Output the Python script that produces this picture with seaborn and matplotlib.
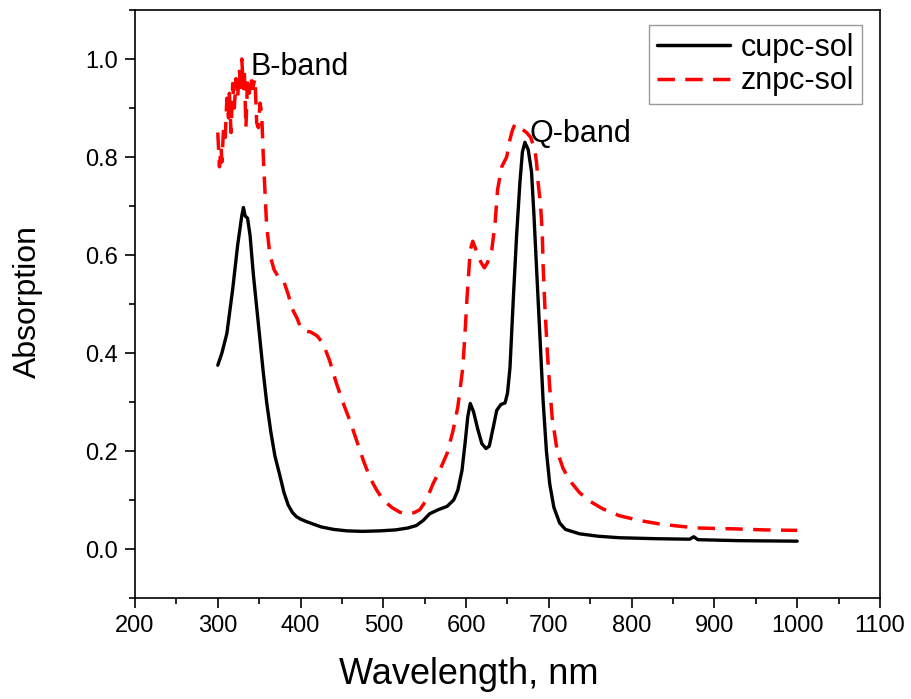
import numpy as np
import pandas as pd
import seaborn as sns
import matplotlib
matplotlib.use("Agg")
import matplotlib.pyplot as plt
from matplotlib.ticker import MultipleLocator

# ---- data ----
cupc_wl = [300, 305, 311, 318, 324, 329, 331, 333, 336, 339, 343, 349, 355, 359, 364, 369, 375,
           380, 385, 390, 395, 400, 407, 415, 425, 440, 456, 475, 496, 515, 530, 540, 548, 556,
           566, 577, 585, 590, 595, 599, 602, 605, 609, 614, 619, 624, 628, 633, 637, 642, 647,
           650, 653, 657, 661, 665, 668, 671, 675, 679, 682, 685, 689, 693, 697, 701, 706, 713,
           720, 737, 760, 785, 830, 870, 875, 880, 930, 1000]
cupc_abs = [0.375, 0.40, 0.44, 0.53, 0.62, 0.68, 0.697, 0.68, 0.675, 0.64, 0.56, 0.46, 0.36, 0.30,
            0.24, 0.19, 0.15, 0.115, 0.09, 0.075, 0.066, 0.061, 0.056, 0.051, 0.045, 0.040, 0.037,
            0.036, 0.037, 0.039, 0.043, 0.048, 0.058, 0.072, 0.080, 0.087, 0.10, 0.12, 0.16,
            0.22, 0.27, 0.297, 0.28, 0.245, 0.215, 0.205, 0.21, 0.25, 0.283, 0.295, 0.298, 0.318,
            0.37, 0.51, 0.64, 0.748, 0.81, 0.83, 0.815, 0.77, 0.68, 0.576, 0.44, 0.303, 0.20,
            0.133, 0.085, 0.053, 0.040, 0.031, 0.026, 0.023, 0.021, 0.020, 0.025, 0.019, 0.017,
            0.016]

znpc_wl = [300, 302, 304, 305, 307, 309, 311, 313, 314, 316, 318, 320, 322, 324, 326, 328, 329,
           331, 332, 334, 336, 338, 340, 342, 345, 347, 349, 351, 353, 355, 357, 359, 363, 368,
           375, 380, 385, 390, 396, 400, 405, 412, 420, 427, 435, 443, 451, 460, 468, 476, 484,
           492, 500, 510, 520, 530, 537, 544, 552, 560, 568, 577, 584, 590, 596, 599, 601, 603,
           605, 608, 611, 614, 618, 622, 626, 631, 635, 638, 643, 649, 653, 656, 659, 662, 665,
           669, 673, 678, 683, 685, 687, 690, 692, 693, 695, 698, 701, 704, 710, 717, 725, 737,
           749, 765, 785, 810, 834, 855, 878, 900, 926, 960, 1000]
znpc_abs = [0.85, 0.78, 0.82, 0.79, 0.86, 0.84, 0.92, 0.88, 0.93, 0.85, 0.95, 0.90, 0.96, 0.92,
            0.98, 0.93, 1.00, 0.94, 0.98, 0.86, 0.96, 0.93, 0.965, 0.94, 0.96, 0.87, 0.86, 0.91,
            0.89, 0.80, 0.73, 0.66, 0.60, 0.57, 0.55, 0.545, 0.52, 0.49, 0.47, 0.452, 0.445,
            0.443, 0.435, 0.42, 0.385, 0.34, 0.30, 0.26, 0.22, 0.18, 0.145, 0.12, 0.10, 0.085,
            0.075, 0.072, 0.074, 0.08, 0.10, 0.133, 0.16, 0.195, 0.24, 0.29, 0.37, 0.45, 0.51,
            0.56, 0.61, 0.628, 0.615, 0.60, 0.585, 0.574, 0.585, 0.61, 0.665, 0.733, 0.78, 0.80,
            0.836, 0.855, 0.867, 0.865, 0.86, 0.855, 0.85, 0.84, 0.815, 0.79, 0.748, 0.70, 0.645,
            0.58, 0.50, 0.405, 0.33, 0.268, 0.20, 0.165, 0.14, 0.115, 0.098, 0.082, 0.068, 0.058,
            0.051, 0.047, 0.043, 0.042, 0.041, 0.039, 0.038]

series_names = ["cupc-sol", "znpc-sol"]
x_ticks = [200, 300, 400, 500, 600, 700, 800, 900, 1000, 1100]
y_ticks = [0.0, 0.2, 0.4, 0.6, 0.8, 1.0]
annotations = [("B-band", 339, 0.984), ("Q-band", 677, 0.846)]

df = pd.concat([
    pd.DataFrame({"wl": cupc_wl, "abs": cupc_abs, "series": series_names[0]}),
    pd.DataFrame({"wl": znpc_wl, "abs": znpc_abs, "series": series_names[1]}),
], ignore_index=True)

sns.set_style("ticks")
plt.rcParams["font.family"] = ["Liberation Sans", "DejaVu Sans"]
plt.rcParams["axes.linewidth"] = 1.2
plt.rcParams["text.color"] = "black"
plt.rcParams["axes.labelcolor"] = "black"
plt.rcParams["xtick.color"] = "black"
plt.rcParams["ytick.color"] = "black"
plt.rcParams["xtick.labelcolor"] = "black"
plt.rcParams["ytick.labelcolor"] = "black"

fig = plt.figure(figsize=(9.12, 6.99), dpi=100)
ax = fig.add_axes([135 / 912, 1 - 598 / 699, 745 / 912, 588 / 699])

sns.lineplot(data=df, x="wl", y="abs", hue="series", style="series",
             palette={"cupc-sol": "black", "znpc-sol": "#ff0000"},
             dashes={"cupc-sol": "", "znpc-sol": (5, 3)},
             sort=False, estimator=None, ax=ax, legend=True)
ax.lines[0].set_linewidth(2.4)
ax.lines[0].set_solid_joinstyle("round")
ax.lines[1].set_linewidth(2.5)
ax.lines[1].set_dashes((5, 3))

ax.set_xlim(200, 1100)
ax.set_ylim(-0.1, 1.1)
ax.set_xticks(x_ticks)
ax.set_xticklabels([str(v) for v in x_ticks])
ax.set_yticks(y_ticks)
ax.set_yticklabels([f"{v:.1f}" for v in y_ticks])
ax.xaxis.set_minor_locator(MultipleLocator(50))
ax.yaxis.set_minor_locator(MultipleLocator(0.1))
ax.tick_params(which="major", direction="out", length=7, width=1.2, labelsize=17,
               top=False, right=False, pad=5, colors="black", labelcolor="black")
ax.tick_params(which="minor", direction="out", length=4, width=1.2, top=False, right=False,
               colors="black")
for s in ax.spines.values():
    s.set_visible(True)
    s.set_color("black")
    s.set_linewidth(1.2)

ax.set_xlabel("Wavelength, nm", fontsize=26, color="black")
ax.set_ylabel("Absorption", fontsize=23, color="black")
ax.xaxis.set_label_coords((469 - 135) / 745, (598 - 675) / 588)
ax.xaxis.label.set_va("center")
ax.yaxis.set_label_coords((28 - 135) / 745, (598 - 301) / 588)
ax.yaxis.label.set_va("center")

for txt, xx, yy in annotations:
    ax.text(xx, yy, txt, fontsize=22, ha="left", va="center", color="black")

handles, labels = ax.get_legend_handles_labels()
leg = ax.legend(handles, labels, loc="upper right",
                bbox_to_anchor=((862 - 135) / 745, (598 - 25) / 588),
                fontsize=22, frameon=True, fancybox=False, framealpha=1,
                edgecolor="#999999", borderpad=0.25, labelspacing=0.12,
                handlelength=2.4, handletextpad=0.35, borderaxespad=0)
leg.get_frame().set_linewidth(1.0)
for t in leg.get_texts():
    t.set_color("black")
for h in leg.get_lines():
    h.set_linewidth(2.5)

fig.savefig("out.png", dpi=100)
